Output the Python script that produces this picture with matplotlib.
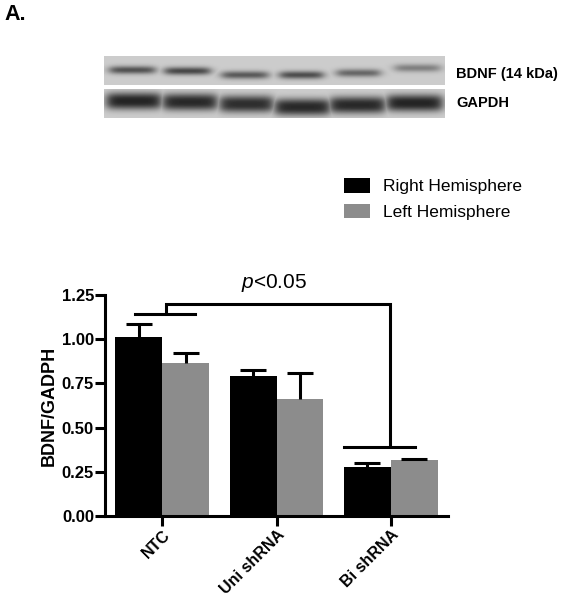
import numpy as np
import matplotlib
matplotlib.use("Agg")
import matplotlib.pyplot as plt

plt.rcParams['font.family'] = ['Liberation Sans', 'DejaVu Sans']
plt.rcParams['mathtext.fontset'] = 'custom'
plt.rcParams['mathtext.rm'] = 'Liberation Sans'
plt.rcParams['mathtext.it'] = 'Liberation Sans:italic'

# ---------------- data ----------------
categories = ["NTC", "Uni shRNA", "Bi shRNA"]
series_names = ["Right Hemisphere", "Left Hemisphere"]
right_vals = [1.01, 0.79, 0.277]
right_err = [0.075, 0.036, 0.023]
left_vals = [0.865, 0.664, 0.319]
left_err = [0.055, 0.146, 0.003]
yticks = [0.00, 0.25, 0.50, 0.75, 1.00, 1.25]
ytick_labels = ["0.00", "0.25", "0.50", "0.75", "1.00", "1.25"]
y_label = "BDNF/GADPH"
sig_text = "$p$<0.05"

# blot (decorative image) lane descriptors
blot_labels = ["BDNF (14 kDa)", "GAPDH"]
bdnf_lanes_x = [(110, 155), (165, 210), (222, 268), (280, 323), (337, 380), (395, 440)]
bdnf_lanes_y = [70, 71, 75, 75, 73, 68]
bdnf_strength = [0.48, 0.52, 0.45, 0.5, 0.4, 0.3]
gapdh_lanes_x = [(107, 161), (163, 217), (220, 273), (275, 330), (330, 385), (387, 442)]
gapdh_lanes_y = [101, 102, 104, 107, 105, 103]
gapdh_strength = [0.66, 0.64, 0.62, 0.64, 0.64, 0.66]

W, H = 561, 600
fig = plt.figure(figsize=(W / 100, H / 100), dpi=100)

def fx(px):
    return px / W

def fy(py):
    return 1 - py / H

# ---------------- "A." ----------------
fig.text(fx(4), fy(14), "A.", fontsize=15.5, fontweight="bold", ha="left", va="center")

# ---------------- blot ----------------
bax = fig.add_axes([fx(90), fy(125), fx(450) - fx(90), fy(40) - fy(125)])
bax.set_xlim(90, 450)
bax.set_ylim(125, 40)
bax.axis("off")

def strip(y0, y1, lanes_x, lanes_y, strengths, hy, power, base=0.80):
    x = np.arange(104, 445) + 0.5
    y = np.arange(y0, y1) + 0.5
    X, Y = np.meshgrid(x, y)
    dark = np.zeros_like(X)
    for (xa, xb), yc, s in zip(lanes_x, lanes_y, strengths):
        px = 1 / (1 + np.exp(-(X - xa) / 3.0)) * 1 / (1 + np.exp((X - xb) / 3.0))
        py = np.exp(-np.abs((Y - yc) / hy) ** power)
        dark = np.maximum(dark, s * px * py)
    img = base - dark
    bax.imshow(img, cmap="gray", vmin=0, vmax=1, extent=(104, 445, y1, y0),
               interpolation="bilinear", aspect="auto")

strip(56, 85, bdnf_lanes_x, bdnf_lanes_y, bdnf_strength, 4.0, 2)
strip(89, 118, gapdh_lanes_x, gapdh_lanes_y, gapdh_strength, 8.5, 2.5)

fig.text(fx(456), fy(74), blot_labels[0], fontsize=10.5, fontweight="bold", ha="left", va="center")
fig.text(fx(456), fy(103), blot_labels[1], fontsize=10.5, fontweight="bold", ha="left", va="center")

# ---------------- bar chart ----------------
ax = fig.add_axes([fx(105), fy(516), fx(448) - fx(105), fy(295) - fy(516)])
x = np.arange(len(categories))
bw = 0.41
lw = 2.2
b1 = ax.bar(x - bw / 2, right_vals, width=bw, color="black", zorder=2,
            label=series_names[0])
b2 = ax.bar(x + bw / 2, left_vals, width=bw, color="#8c8c8c", zorder=2,
            label=series_names[1])
for xs, vals, errs in [(x - bw / 2, right_vals, right_err), (x + bw / 2, left_vals, left_err)]:
    eb = ax.errorbar(xs, vals, yerr=[np.zeros(3), errs], fmt="none",
                     ecolor="black", elinewidth=lw, capsize=9.5, capthick=lw, zorder=3)
    caps = eb[1]
    if len(caps) == 2:
        caps[0].set_visible(False)

ax.set_xlim(-0.5, 2.5)
ax.set_ylim(0, 1.25)
ax.set_yticks(yticks)
ax.set_yticklabels(ytick_labels)
ax.set_xticks(x)
ax.set_xticklabels(categories, rotation=45, ha="right", rotation_mode="anchor")
for lab in ax.get_yticklabels():
    lab.set_fontweight("bold")
    lab.set_fontsize(12)
for lab in ax.get_xticklabels():
    lab.set_fontweight("bold")
    lab.set_fontsize(11.5)
ax.tick_params(axis="both", width=lw, length=7, direction="out", color="black")
ax.tick_params(axis="y", pad=1)
ax.tick_params(axis="x", pad=1)
for s in ["top", "right"]:
    ax.spines[s].set_visible(False)
for s in ["left", "bottom"]:
    ax.spines[s].set_linewidth(lw)
ax.set_ylabel(y_label, fontsize=13, fontweight="bold", labelpad=3)

# significance bracket
ax.plot([0.03, 0.03, 1.99, 1.99], [1.145, 1.197, 1.197, 0.39], color="black",
        lw=lw, clip_on=False, solid_capstyle="butt", solid_joinstyle="miter")
ax.plot([-0.24, 0.29], [1.142, 1.142], color="black", lw=lw, clip_on=False)
ax.plot([1.59, 2.21], [0.39, 0.39], color="black", lw=lw, clip_on=False)
ax.text(0.98, 1.318, sig_text, fontsize=15, ha="center", va="center")

# legend
fig.legend(handles=[b1, b2], labels=series_names, loc="upper left",
           bbox_to_anchor=(fx(344), fy(178)), frameon=False, borderpad=0,
           borderaxespad=0, handlelength=1.5, handleheight=0.92,
           handletextpad=0.75, labelspacing=0.55,
           prop={"family": "Liberation Sans", "size": 12.5})

fig.savefig("out.png", dpi=100)
